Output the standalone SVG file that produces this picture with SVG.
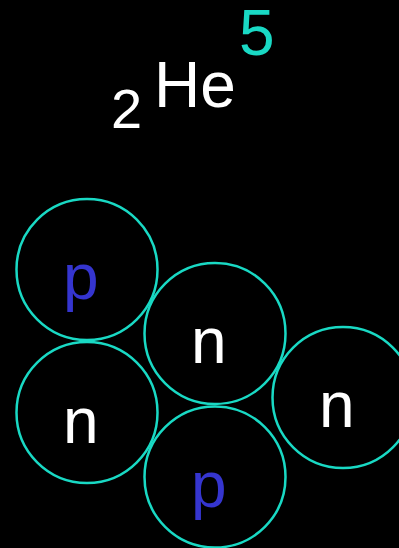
<svg xmlns="http://www.w3.org/2000/svg" width="399" height="548" viewBox="0 0 399 548">
<style>
.c{fill:none;stroke:#19d9c4;stroke-width:2.5}
.t{font-family:"Liberation Sans",Arial,sans-serif;font-size:64px}
.p{fill:#3535cf}
.n{fill:#ffffff}
</style>
<rect width="399" height="548" fill="#000"/>
<g id="label">
<text class="t" x="111" y="128" fill="#fff" style="font-size:56px">2</text>
<text class="t n" x="154" y="107">He</text>
<text class="t" x="239" y="55" fill="#19d9c4">5</text>
</g>
<g id="connectors"></g>
<g id="node-p1"><circle class="c" cx="87" cy="269.5" r="70.5"/><text class="t p" x="63" y="299">p</text></g>
<g id="node-n1"><circle class="c" cx="215" cy="333.5" r="70.5"/><text class="t n" x="191" y="363">n</text></g>
<g id="node-n2"><circle class="c" cx="87" cy="412.5" r="70.5"/><text class="t n" x="63" y="443">n</text></g>
<g id="node-n3"><circle class="c" cx="343" cy="397.5" r="70.5"/><text class="t n" x="319" y="427">n</text></g>
<g id="node-p2"><circle class="c" cx="215" cy="477" r="70.5"/><text class="t p" x="191" y="507">p</text></g>
</svg>
